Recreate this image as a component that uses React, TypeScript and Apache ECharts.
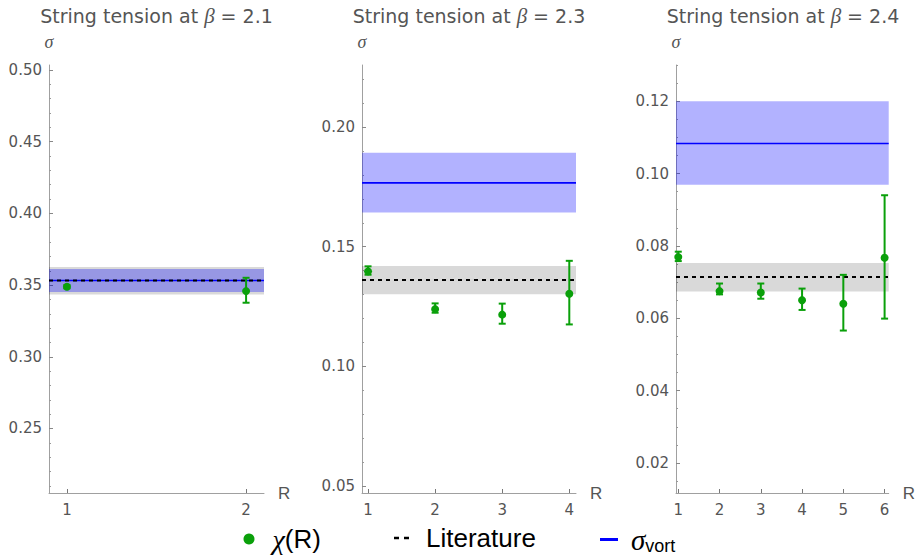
import React, { useEffect, useRef } from "react";
import * as echarts from "echarts";

// ---------- data ----------
const TITLES = ["String tension at {b|β} = 2.1", "String tension at {b|β} = 2.3", "String tension at {b|β} = 2.4"];

const R1 = [1, 2];
const CHI1 = [0.3488, 0.3458];
const CHI1_LO = [0.3478, 0.3377];
const CHI1_HI = [0.3500, 0.3551];

const R2 = [1, 2, 3, 4];
const CHI2 = [0.1397, 0.1239, 0.1216, 0.1303];
const CHI2_LO = [0.1383, 0.1224, 0.1178, 0.1175];
const CHI2_HI = [0.1418, 0.1263, 0.1262, 0.1441];

const R3 = [1, 2, 3, 4, 5, 6];
const CHI3 = [0.0769, 0.0675, 0.0671, 0.0650, 0.0640, 0.0767];
const CHI3_LO = [0.0758, 0.0666, 0.0654, 0.0623, 0.0566, 0.0599];
const CHI3_HI = [0.0784, 0.0696, 0.0696, 0.0682, 0.0720, 0.0940];

const LIT = [0.3532, 0.1361, 0.0714];
const LIT_LO = [0.3435, 0.1301, 0.0674];
const LIT_HI = [0.3627, 0.1419, 0.0753];

const VORT = [0.3532, 0.1767, 0.1083];
const VORT_LO = [0.3451, 0.1643, 0.0969];
const VORT_HI = [0.3613, 0.1893, 0.1200];

const Y_MAJOR = [
  [0.25, 0.30, 0.35, 0.40, 0.45, 0.50],
  [0.05, 0.10, 0.15, 0.20],
  [0.02, 0.04, 0.06, 0.08, 0.10, 0.12],
];
const Y_MINOR_STEP = [0.01, 0.01, 0.005];
const Y_MIN = [0.205, 0.047, 0.0117];
const Y_MAX = [0.5035, 0.226, 0.13];
const X_MIN = [0.9, 0.91, 0.945];
const X_MAX = [2.1, 4.1, 6.1];
const X_TICKS = [R1, R2, R3];

// ---------- styling ----------
const GREEN = "#0aa00a";
const AXIS = "#a0a0a0";
const LABEL = "#555555";
const SANS = "DejaVu Sans, sans-serif";
const LSANS = "Liberation Sans, Arial, sans-serif";
const SERIF = "Liberation Serif, DejaVu Serif, serif";

const GRIDS = [
  { left: 49, top: 65, width: 215, height: 428 },
  { left: 362, top: 65, width: 214, height: 428 },
  { left: 676, top: 65, width: 214, height: 428 },
];

function minorTicks(i: number): number[] {
  const out: number[] = [];
  const step = Y_MINOR_STEP[i];
  const start = Math.ceil(Y_MIN[i] / step - 1e-9);
  const end = Math.floor(Y_MAX[i] / step + 1e-9);
  for (let k = start; k <= end; k++) {
    const v = +(k * step).toFixed(6);
    if (!Y_MAJOR[i].some((m) => Math.abs(m - v) < 1e-9)) out.push(v);
  }
  return out;
}

export default function App() {
  const ref = useRef<HTMLDivElement>(null);

  useEffect(() => {
    if (!ref.current) return;
    const chart = echarts.init(ref.current, null, { renderer: "svg" });

    const panels = [
      { r: R1, chi: CHI1, lo: CHI1_LO, hi: CHI1_HI },
      { r: R2, chi: CHI2, lo: CHI2_LO, hi: CHI2_HI },
      { r: R3, chi: CHI3, lo: CHI3_LO, hi: CHI3_HI },
    ];

    const xAxes: any[] = [];
    const yAxes: any[] = [];
    const series: any[] = [];
    const titles: any[] = [];

    panels.forEach((p, i) => {
      const g = GRIDS[i];
      titles.push({
        text: TITLES[i],
        left: g.left + g.width / 2,
        textAlign: "center",
        top: 5,
        padding: 0,
        textStyle: {
          fontFamily: SANS,
          fontSize: 19,
          fontWeight: "normal",
          color: LABEL,
          rich: { b: { fontFamily: SERIF, fontStyle: "italic", fontSize: 21, color: LABEL } },
        },
      });

      xAxes.push({
        type: "value",
        gridIndex: i,
        min: X_MIN[i],
        max: X_MAX[i],
        name: "R",
        nameLocation: "end",
        nameGap: 14,
        nameTextStyle: { fontFamily: LSANS, fontSize: 17, color: LABEL },
        axisLine: { show: true, lineStyle: { color: AXIS, width: 1 } },
        axisTick: { show: true, inside: true, length: 4, customValues: X_TICKS[i], lineStyle: { color: "#777" } },
        axisLabel: { customValues: X_TICKS[i], fontFamily: SANS, fontSize: 15, color: LABEL, margin: 9 },
        splitLine: { show: false },
      });

      yAxes.push({
        type: "value",
        gridIndex: i,
        position: "left",
        min: Y_MIN[i],
        max: Y_MAX[i],
        name: "{s|σ}",
        nameLocation: "end",
        nameGap: 14,
        nameTextStyle: {
          fontSize: 16,
          color: LABEL,
          rich: { s: { fontFamily: SERIF, fontStyle: "italic", fontSize: 18, color: LABEL } },
        },
        axisLine: { show: true, lineStyle: { color: AXIS, width: 1 } },
        axisTick: { show: true, inside: true, length: 4, customValues: Y_MAJOR[i], lineStyle: { color: "#888" } },
        axisLabel: {
          customValues: Y_MAJOR[i],
          fontFamily: SANS,
          fontSize: 15,
          color: LABEL,
          margin: 7,
          formatter: (v: number) => v.toFixed(2),
        },
        splitLine: { show: false },
      });
      yAxes.push({
        type: "value",
        gridIndex: i,
        position: "left",
        min: Y_MIN[i],
        max: Y_MAX[i],
        axisLine: { show: false },
        axisTick: { show: true, inside: true, length: 2, customValues: minorTicks(i), lineStyle: { color: "#999" } },
        axisLabel: { show: false },
        splitLine: { show: false },
      });

      const yIdx = i * 2;
      const bandSeries = (lo: number, hi: number, color: string, z: number) => ({
        type: "custom",
        xAxisIndex: i,
        yAxisIndex: yIdx,
        z,
        silent: true,
        data: [[1, lo, hi]],
        encode: { x: 0, y: [1, 2] },
        renderItem: (params: any, api: any) => {
          const cs = params.coordSys;
          const top = api.coord([1, api.value(2)])[1];
          const bot = api.coord([1, api.value(1)])[1];
          return { type: "rect", shape: { x: cs.x, y: top, width: cs.width, height: bot - top }, style: { fill: color } };
        },
      });

      series.push(bandSeries(LIT_LO[i], LIT_HI[i], "rgba(0,0,0,0.15)", 1));
      series.push(bandSeries(VORT_LO[i], VORT_HI[i], "rgba(0,0,255,0.3)", 2));

      series.push({
        name: "vort",
        type: "line",
        xAxisIndex: i,
        yAxisIndex: yIdx,
        z: 3,
        symbol: "none",
        silent: true,
        data: [[X_MIN[i], VORT[i]], [X_MAX[i], VORT[i]]],
        lineStyle: { color: "#0000ff", width: 1.6 },
        itemStyle: { color: "#0000ff" },
      });
      series.push({
        name: "lit",
        type: "line",
        xAxisIndex: i,
        yAxisIndex: yIdx,
        z: 4,
        symbol: "none",
        silent: true,
        data: [[X_MIN[i], LIT[i]], [X_MAX[i], LIT[i]]],
        lineStyle: { color: "#000000", width: 2, type: [4, 4] },
        itemStyle: { color: "#000000" },
      });

      series.push({
        type: "custom",
        xAxisIndex: i,
        yAxisIndex: yIdx,
        z: 5,
        silent: true,
        data: p.r.map((r, k) => [r, p.lo[k], p.hi[k]]),
        encode: { x: 0, y: [1, 2] },
        renderItem: (params: any, api: any) => {
          const x = api.value(0);
          const a = api.coord([x, api.value(1)]);
          const b = api.coord([x, api.value(2)]);
          const cw = 3.5;
          const st = { stroke: GREEN, lineWidth: 2 };
          return {
            type: "group",
            children: [
              { type: "line", shape: { x1: a[0], y1: a[1], x2: b[0], y2: b[1] }, style: st },
              { type: "line", shape: { x1: a[0] - cw, y1: a[1], x2: a[0] + cw, y2: a[1] }, style: st },
              { type: "line", shape: { x1: b[0] - cw, y1: b[1], x2: b[0] + cw, y2: b[1] }, style: st },
            ],
          };
        },
      });

      series.push({
        name: "chi",
        type: "scatter",
        xAxisIndex: i,
        yAxisIndex: yIdx,
        z: 6,
        symbol: "circle",
        symbolSize: 8,
        data: p.r.map((r, k) => [r, p.chi[k]]),
        itemStyle: { color: GREEN, opacity: 1 },
      });
    });

    const legendBase = {
      orient: "horizontal",
      top: 525,
      padding: 0,
      selectedMode: false,
      itemGap: 0,
    };

    chart.setOption({
      animation: false,
      backgroundColor: "#ffffff",
      title: titles,
      grid: GRIDS.map((g) => ({ ...g, containLabel: false })),
      xAxis: xAxes,
      yAxis: yAxes,
      legend: [
        {
          ...legendBase,
          left: 243.5,
          data: [{ name: "chi", icon: "circle" }],
          itemWidth: 11,
          itemHeight: 11,
          formatter: () => "{i|χ}(R)",
          textStyle: {
            fontFamily: LSANS,
            fontSize: 26,
            color: "#000",
            padding: [0, 0, 0, 13],
            rich: { i: { fontFamily: SERIF, fontStyle: "italic", fontSize: 28, color: "#000" } },
          },
        },
        {
          ...legendBase,
          left: 394,
          data: [{ name: "lit", icon: "path://M0,0h5v2.5h-5z M10,0h5v2.5h-5z" }],
          itemWidth: 15,
          itemHeight: 2.5,
          formatter: () => "Literature",
          textStyle: { fontFamily: LSANS, fontSize: 26, color: "#000", padding: [0, 0, 0, 12] },
        },
        {
          ...legendBase,
          left: 600,
          data: [{ name: "vort", icon: "rect" }],
          itemWidth: 18,
          itemHeight: 3,
          formatter: () => "{s|σ}{sub|vort}",
          textStyle: {
            fontFamily: LSANS,
            fontSize: 26,
            color: "#000",
            padding: [0, 0, 0, 8],
            rich: {
              s: { fontFamily: SERIF, fontStyle: "italic", fontSize: 29, color: "#000", lineHeight: 30 },
              sub: { fontFamily: LSANS, fontSize: 18, color: "#000", lineHeight: 14, verticalAlign: "bottom" },
            },
          },
        },
      ],
      series,
    });

    return () => chart.dispose();
  }, []);

  return <div ref={ref} style={{ position: "fixed", left: 0, top: 0, width: 918, height: 556 }} />;
}
